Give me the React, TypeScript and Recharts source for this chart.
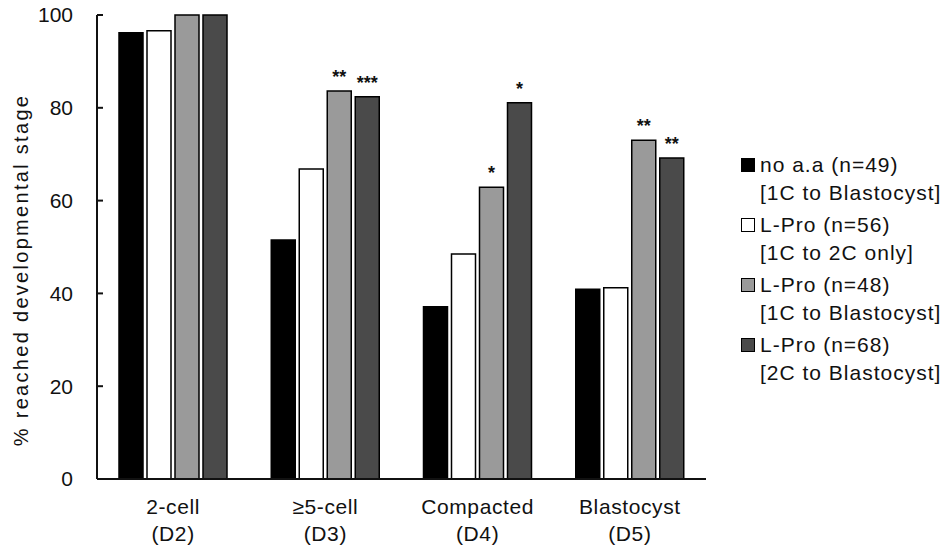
import { Bar, BarChart, LabelList, XAxis, YAxis } from 'recharts';

const stages = ['2-cell', '≥5-cell', 'Compacted', 'Blastocyst'];
const days = ['(D2)', '(D3)', '(D4)', '(D5)'];

const noAa = [96.2, 51.5, 37.1, 40.9];
const lproTo2C = [96.6, 66.8, 48.5, 41.2];
const lpro1CToBl = [100, 83.6, 62.9, 73.0];
const lpro2CToBl = [100, 82.4, 81.1, 69.2];

const stars1C = ['', '**', '*', '**'];
const stars2C = ['', '***', '*', '**'];

const yTicks = [0, 20, 40, 60, 80, 100];

const legendNames = ['no a.a (n=49)', 'L-Pro (n=56)', 'L-Pro (n=48)', 'L-Pro (n=68)'];
const legendNotes = ['[1C to Blastocyst]', '[1C to 2C only]', '[1C to Blastocyst]', '[2C to Blastocyst]'];
const fills = ['#000000', '#ffffff', '#9a9a9a', '#4a4a4a'];

const FONT = '"Liberation Sans", Arial, sans-serif';

const data = stages.map((stage, i) => ({
  stage,
  day: days[i],
  noAa: noAa[i],
  lproTo2C: lproTo2C[i],
  lpro1CToBl: lpro1CToBl[i],
  lpro2CToBl: lpro2CToBl[i],
  s1: stars1C[i],
  s2: stars2C[i],
}));

function StageTick({ x, y, payload, index }: any) {
  return (
    <text x={x} y={y} textAnchor="middle" fontSize={21} fill="#111" fontFamily={FONT} letterSpacing={0.6}>
      <tspan x={x} dy={27}>{payload.value}</tspan>
      <tspan x={x} dy={27}>{days[index]}</tspan>
    </text>
  );
}

function LegendBox() {
  return (
    <div
      style={{
        position: 'absolute',
        left: 741,
        top: 151,
        fontFamily: FONT,
        fontSize: 21,
        color: '#111',
        letterSpacing: 1,
      }}
    >
      {legendNames.map((name, i) => (
        <div key={i} style={{ marginBottom: 4, lineHeight: '28px' }}>
          <div style={{ display: 'flex', alignItems: 'center' }}>
            <span
              style={{
                width: 12,
                height: 12,
                background: fills[i],
                border: '1.5px solid #000',
                display: 'inline-block',
                marginRight: 5,
              }}
            />
            {name}
          </div>
          <div style={{ paddingLeft: 19 }}>{legendNotes[i]}</div>
        </div>
      ))}
    </div>
  );
}

export default function App() {
  return (
    <div style={{ margin: -8, width: 950, height: 554, background: '#fff', position: 'relative' }}>
      <BarChart
        width={950}
        height={554}
        data={data}
        margin={{ top: 15, right: 244, bottom: 15, left: 0 }}
        barCategoryGap={22}
        barGap={4}
        style={{ fontFamily: FONT }}
      >
        <XAxis
          dataKey="stage"
          tickLine={false}
          axisLine={{ stroke: '#111', strokeWidth: 2 }}
          tick={<StageTick />}
          height={60}
          interval={0}
        />
        <YAxis
          domain={[0, 100]}
          ticks={yTicks}
          width={97}
          tickSize={-6}
          tickMargin={30}
          axisLine={{ stroke: '#111', strokeWidth: 2 }}
          tickLine={{ stroke: '#111', strokeWidth: 2 }}
          tick={{ fontSize: 21, fill: '#111', fontFamily: FONT }}
          label={{
            content: () => (
              <text
                x={21}
                y={270}
                transform="rotate(-90 21 270)"
                textAnchor="middle"
                dominantBaseline="central"
                fontSize={20}
                fill="#111"
                fontFamily={FONT}
                letterSpacing={2.3}
              >
                % reached developmental stage
              </text>
            ),
          }}
        />
        <Bar dataKey="noAa" fill={fills[0]} stroke="#000" strokeWidth={1.5} barSize={24} isAnimationActive={false} />
        <Bar dataKey="lproTo2C" fill={fills[1]} stroke="#000" strokeWidth={1.5} barSize={24} isAnimationActive={false} />
        <Bar dataKey="lpro1CToBl" fill={fills[2]} stroke="#000" strokeWidth={1.5} barSize={24} isAnimationActive={false}>
          <LabelList dataKey="s1" position="top" offset={8} fontSize={18} fontWeight="bold" fill="#111" fontFamily={FONT} />
        </Bar>
        <Bar dataKey="lpro2CToBl" fill={fills[3]} stroke="#000" strokeWidth={1.5} barSize={24} isAnimationActive={false}>
          <LabelList dataKey="s2" position="top" offset={8} fontSize={18} fontWeight="bold" fill="#111" fontFamily={FONT} />
        </Bar>
      </BarChart>
      <LegendBox />
    </div>
  );
}
